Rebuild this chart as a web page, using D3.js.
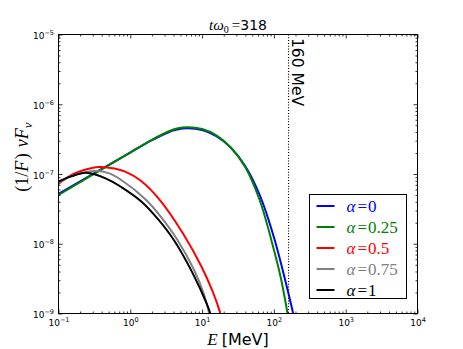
<!DOCTYPE html>
<html>
<head>
<meta charset="utf-8">
<script src="https://cdn.jsdelivr.net/npm/d3@7"></script>
<style>
  body { margin: 0; background: #fff; }
  svg { display: block; }
</style>
</head>
<body>
<script>
// spectra: energy in MeV, (1/F) nu F_nu
const eAlpha0 = [0.1, 0.316, 1, 2, 3.16, 4.47, 6.31, 10, 15.8, 25.1, 39.8, 63.1, 100, 158, 200];
const fAlpha0 = [5.2e-8, 1.03e-7, 2.03e-7, 3.05e-7, 3.84e-7, 4.33e-7, 4.51e-7, 4.26e-7, 3.5e-7, 2.39e-7, 1.3e-7, 5.06e-8, 1.24e-8, 2.01e-9, 7.1e-10];

const eAlpha025 = [0.1, 0.316, 1, 2, 3.16, 4.47, 6.31, 10, 15.8, 25.1, 39.8, 63.1, 100, 126, 158];
const fAlpha025 = [5.0e-8, 1.01e-7, 2.04e-7, 3.09e-7, 3.94e-7, 4.49e-7, 4.68e-7, 4.42e-7, 3.59e-7, 2.4e-7, 1.26e-7, 4.27e-8, 8.2e-9, 3.09e-9, 8.9e-10];

const eAlpha05 = [0.1, 0.15, 0.22, 0.37, 0.6, 0.85, 1.4, 2.6, 5.5, 9.9, 14, 17.5, 20];
const fAlpha05 = [7.2e-8, 9.6e-8, 1.13e-7, 1.26e-7, 1.2e-7, 1.08e-7, 8.0e-8, 4.2e-8, 1.37e-8, 4.6e-9, 2.07e-9, 1.09e-9, 6.5e-10];

const eAlpha075 = [0.1, 0.15, 0.32, 0.5, 0.75, 1.65, 2.6, 4.45, 7.76, 10.5, 12.6, 14];
const fAlpha075 = [7.5e-8, 9.3e-8, 1.1e-7, 1.03e-7, 8.2e-8, 4.27e-8, 2.51e-8, 1.17e-8, 4.17e-9, 1.95e-9, 1.0e-9, 6.5e-10];

const eAlpha1 = [0.1, 0.15, 0.243, 0.46, 0.75, 1.45, 2.4, 4.0, 7.2, 11.7, 13.0, 14.5];
const fAlpha1 = [7.8e-8, 9.25e-8, 1.04e-7, 8.6e-8, 6.5e-8, 3.98e-8, 2.29e-8, 1.15e-8, 3.98e-9, 1.35e-9, 1.0e-9, 6.0e-10];

const alphaLabels = ["0", "0.25", "0.5", "0.75", "1"];
const seriesColors = ["#0000ff", "#008000", "#ff0000", "#808080", "#000000"];

const xMajor = [1e-1, 1e0, 1e1, 1e2, 1e3, 1e4];
const xExponents = ["\u22121", "0", "1", "2", "3", "4"];
const yMajor = [1e-9, 1e-8, 1e-7, 1e-6, 1e-5];
const yExponents = ["\u22129", "\u22128", "\u22127", "\u22126", "\u22125"];

const cutoffEnergy = 160;
const titleValue = "318";

const W = 463, H = 349;
const L = 58.5, R = 417.5, T = 34.5, B = 313.5;

const x = d3.scaleLog().domain([1e-1, 1e4]).range([L, R]);
const y = d3.scaleLog().domain([1e-9, 1e-5]).range([B, T]);

const series = [
  [eAlpha0, fAlpha0],
  [eAlpha025, fAlpha025],
  [eAlpha05, fAlpha05],
  [eAlpha075, fAlpha075],
  [eAlpha1, fAlpha1]
].map(([e, f], i) => ({
  label: alphaLabels[i],
  color: seriesColors[i],
  points: e.map((v, j) => [v, f[j]])
}));

const svg = d3.select("body").append("svg")
  .attr("width", W)
  .attr("height", H)
  .attr("xmlns", "http://www.w3.org/2000/svg");

svg.append("defs").append("clipPath").attr("id", "plot")
  .append("rect")
  .attr("x", L).attr("y", T)
  .attr("width", R - L).attr("height", B - T);

// curves
const line = d3.line()
  .x(d => x(d[0]))
  .y(d => y(d[1]))
  .curve(d3.curveCatmullRom.alpha(0.5));

svg.append("g")
  .attr("clip-path", "url(#plot)")
  .selectAll("path")
  .data(series)
  .enter()
  .append("path")
  .attr("d", d => line(d.points))
  .attr("fill", "none")
  .attr("stroke", d => d.color)
  .attr("stroke-width", 2)
  .attr("stroke-linejoin", "round");

// dotted cut-off line
svg.append("line")
  .attr("x1", x(cutoffEnergy)).attr("x2", x(cutoffEnergy))
  .attr("y1", T).attr("y2", B)
  .attr("stroke", "#000")
  .attr("stroke-width", 1.2)
  .attr("stroke-dasharray", "1,1.8");

svg.append("text")
  .attr("transform", `translate(${x(cutoffEnergy) + 3},${T + 3.5}) rotate(90)`)
  .attr("font-family", "DejaVu Sans")
  .attr("font-size", 15.5)
  .attr("fill", "#000")
  .text(`${cutoffEnergy} MeV`);

// ticks, inward on all four sides
const xMinor = x.ticks().filter(v => !xMajor.some(m => Math.abs(m - v) / m < 1e-9));
const yMinor = y.ticks().filter(v => !yMajor.some(m => Math.abs(m - v) / m < 1e-9));

function drawAxis(axis, tx, ty, values, size) {
  const g = svg.append("g")
    .attr("transform", `translate(${tx},${ty})`)
    .call(axis.tickValues(values).tickSizeInner(-size).tickSizeOuter(0).tickFormat(""));
  g.select(".domain").remove();
  g.selectAll(".tick line").attr("stroke", "#000").attr("stroke-width", 0.8);
  return g;
}

const xBottom = drawAxis(d3.axisBottom(x), 0, B, xMajor, 4);
drawAxis(d3.axisBottom(x), 0, B, xMinor, 2);
drawAxis(d3.axisTop(x), 0, T, xMajor, 4);
drawAxis(d3.axisTop(x), 0, T, xMinor, 2);
const yLeft = drawAxis(d3.axisLeft(y), L, 0, yMajor, 4);
drawAxis(d3.axisLeft(y), L, 0, yMinor, 2);
drawAxis(d3.axisRight(y), R, 0, yMajor, 4);
drawAxis(d3.axisRight(y), R, 0, yMinor, 2);

xBottom.selectAll(".tick").each(function(d, i) {
  const t = d3.select(this).append("text")
    .attr("y", 12.5)
    .attr("dy", 0)
    .attr("text-anchor", "middle")
    .attr("font-family", "DejaVu Sans")
    .attr("font-size", 9)
    .attr("fill", "#000");
  t.append("tspan").text("10");
  t.append("tspan").attr("dy", -4).attr("font-size", 6.5).text(xExponents[i]);
});

yLeft.selectAll(".tick").each(function(d, i) {
  const t = d3.select(this).append("text")
    .attr("x", -4.5)
    .attr("y", 4)
    .attr("dy", 0)
    .attr("text-anchor", "end")
    .attr("font-family", "DejaVu Sans")
    .attr("font-size", 9)
    .attr("fill", "#000");
  t.append("tspan").text("10");
  t.append("tspan").attr("dy", -4).attr("font-size", 6.5).text(yExponents[i]);
});

// frame
svg.append("rect")
  .attr("x", L).attr("y", T)
  .attr("width", R - L).attr("height", B - T)
  .attr("fill", "none")
  .attr("stroke", "#000")
  .attr("stroke-width", 1);

// title
const title = svg.append("text")
  .attr("x", (L + R) / 2)
  .attr("y", 30)
  .attr("text-anchor", "middle")
  .attr("font-size", 15)
  .attr("fill", "#000");
title.append("tspan").attr("font-family", "Liberation Serif").attr("font-style", "italic").text("t\u03c9");
title.append("tspan").attr("font-family", "Liberation Serif").attr("font-size", 10).attr("dy", 3).text("0");
title.append("tspan").attr("font-family", "Liberation Serif").attr("dy", -3).attr("dx", 3).text("=");
title.append("tspan").attr("font-family", "DejaVu Sans").attr("font-size", 14).text(titleValue);

// axis labels
const xLabel = svg.append("text")
  .attr("x", (L + R) / 2)
  .attr("y", 345)
  .attr("text-anchor", "middle")
  .attr("font-size", 16)
  .attr("fill", "#000");
xLabel.append("tspan").attr("font-family", "Liberation Serif").attr("font-style", "italic").attr("font-size", 17).text("E");
xLabel.append("tspan").attr("font-family", "DejaVu Sans").attr("dx", 4).text("[MeV]");

const yLabel = svg.append("text")
  .attr("transform", "translate(28,157) rotate(-90)")
  .attr("text-anchor", "middle")
  .attr("font-family", "Liberation Serif")
  .attr("font-size", 18)
  .attr("fill", "#000");
yLabel.append("tspan").text("(1/");
yLabel.append("tspan").attr("font-style", "italic").text("F");
yLabel.append("tspan").attr("dx", 1.5).text(")");
yLabel.append("tspan").attr("dx", 6).attr("font-style", "italic").text("\u03bdF");
yLabel.append("tspan").attr("font-style", "italic").attr("font-size", 13).attr("dy", 4).text("\u03bd");

// legend
const legX = 309.5, legY = 194.5, legW = 97, legH = 104, rowH = 21;
const legend = svg.append("g");
legend.append("rect")
  .attr("x", legX).attr("y", legY)
  .attr("width", legW).attr("height", legH)
  .attr("fill", "#fff")
  .attr("stroke", "#000")
  .attr("stroke-width", 1);

const rows = legend.selectAll("g.row")
  .data(series)
  .enter()
  .append("g")
  .attr("class", "row")
  .attr("transform", (d, i) => `translate(0,${legY + 11.5 + i * rowH})`);

rows.append("line")
  .attr("x1", legX + 7).attr("x2", legX + 25)
  .attr("y1", 0).attr("y2", 0)
  .attr("stroke", d => d.color)
  .attr("stroke-width", 2);

rows.append("text")
  .attr("x", legX + 37)
  .attr("y", 6)
  .attr("font-family", "Liberation Serif")
  .attr("font-size", 17)
  .attr("fill", d => d.color)
  .each(function(d) {
    const t = d3.select(this);
    t.append("tspan").attr("font-style", "italic").text("\u03b1");
    t.append("tspan").attr("dx", 2).text("=");
    t.append("tspan").attr("dx", 1).text(d.label);
  });
</script>
</body>
</html>
